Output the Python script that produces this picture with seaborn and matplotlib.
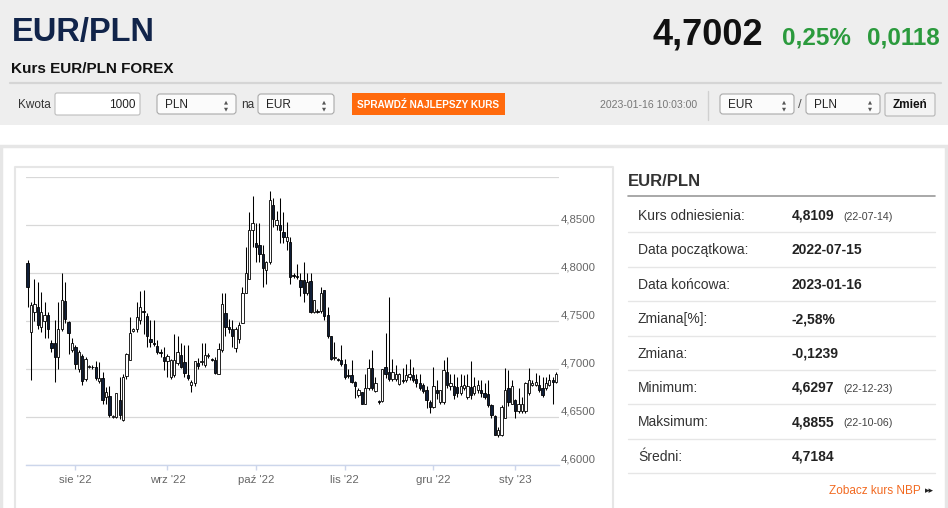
import numpy as np
import pandas as pd
import matplotlib
matplotlib.use("Agg")
import matplotlib.pyplot as plt
import seaborn as sns
from matplotlib.patches import Rectangle, FancyBboxPatch
from matplotlib.transforms import blended_transform_factory, offset_copy

# ---------------- data ----------------
opens = [4.811, 4.739, 4.760, 4.765, 4.744, 4.750, 4.756, 4.727, 4.727, 4.713,
         4.742, 4.771, 4.749, 4.720, 4.723, 4.700, 4.714, 4.690, 4.702, 4.702,
         4.702, 4.688, 4.691, 4.671, 4.672, 4.650, 4.650, 4.668, 4.647, 4.693,
         4.709, 4.740, 4.742, 4.751, 4.761, 4.755, 4.731, 4.727,
         4.724, 4.718, 4.713, 4.708, 4.692, 4.694, 4.706, 4.715, 4.707, 4.694,
         4.683, 4.685, 4.706, 4.707, 4.704, 4.714, 4.711, 4.710, 4.695, 4.720,
         4.758, 4.744, 4.742, 4.722, 4.731, 4.748, 4.779, 4.794, 4.845, 4.831,
         4.829, 4.820, 4.803, 4.812, 4.871, 4.850, 4.850, 4.843, 4.834, 4.833,
         4.798, 4.797, 4.793, 4.793, 4.779, 4.792, 4.760, 4.761, 4.761, 4.782,
         4.756, 4.734, 4.712, 4.711, 4.709, 4.705, 4.694, 4.694, 4.687, 4.673,
         4.676, 4.664, 4.680, 4.701, 4.677, 4.667, 4.667, 4.702, 4.697, 4.690,
         4.690, 4.684, 4.689, 4.689, 4.692, 4.694, 4.690, 4.685, 4.683,
         4.678, 4.666, 4.661, 4.678, 4.666, 4.666, 4.697, 4.682, 4.682, 4.681,
         4.675, 4.680, 4.671, 4.681, 4.675, 4.678, 4.678, 4.675, 4.674, 4.663,
         4.651, 4.631, 4.631, 4.649, 4.680, 4.664, 4.668, 4.656, 4.656, 4.656,
         4.675, 4.683, 4.683, 4.683, 4.680, 4.680, 4.683, 4.689, 4.687]
highs = [4.814, 4.770, 4.794, 4.791, 4.780, 4.770, 4.760, 4.730, 4.751, 4.770,
         4.800, 4.791, 4.750, 4.732, 4.725, 4.720, 4.716, 4.713, 4.704, 4.704,
         4.708, 4.707, 4.697, 4.681, 4.682, 4.652, 4.675, 4.692, 4.695, 4.717,
         4.754, 4.743, 4.770, 4.781, 4.782, 4.758, 4.751, 4.751,
         4.730, 4.721, 4.723, 4.716, 4.711, 4.737, 4.734, 4.727, 4.725, 4.725,
         4.689, 4.708, 4.712, 4.727, 4.727, 4.717, 4.712, 4.713, 4.727, 4.779,
         4.779, 4.752, 4.751, 4.744, 4.749, 4.786, 4.827, 4.864, 4.880, 4.852,
         4.852, 4.829, 4.813, 4.8855, 4.878, 4.865, 4.878, 4.864, 4.853, 4.838,
         4.800, 4.810, 4.800, 4.812, 4.800, 4.800, 4.772, 4.763, 4.786, 4.782,
         4.765, 4.735, 4.728, 4.712, 4.725, 4.711, 4.700, 4.709, 4.688, 4.680,
         4.676, 4.695, 4.711, 4.720, 4.692, 4.668, 4.700, 4.738, 4.775, 4.711,
         4.704, 4.696, 4.701, 4.705, 4.711, 4.702, 4.695, 4.695, 4.686,
         4.682, 4.668, 4.702, 4.689, 4.678, 4.709, 4.713, 4.695, 4.695, 4.692,
         4.695, 4.694, 4.695, 4.708, 4.692, 4.689, 4.689, 4.685, 4.689, 4.664,
         4.652, 4.640, 4.663, 4.701, 4.699, 4.689, 4.669, 4.680, 4.671, 4.687,
         4.701, 4.689, 4.696, 4.694, 4.692, 4.692, 4.695, 4.692, 4.697]
lows = [4.765, 4.689, 4.750, 4.742, 4.739, 4.732, 4.732, 4.718, 4.687, 4.700,
        4.740, 4.748, 4.716, 4.718, 4.700, 4.697, 4.683, 4.688, 4.701, 4.700,
        4.689, 4.686, 4.664, 4.664, 4.650, 4.649, 4.649, 4.648, 4.646, 4.690,
        4.709, 4.739, 4.739, 4.747, 4.737, 4.723, 4.723, 4.724,
        4.716, 4.713, 4.699, 4.692, 4.690, 4.692, 4.704, 4.701, 4.692, 4.689,
        4.676, 4.682, 4.700, 4.704, 4.702, 4.712, 4.708, 4.695, 4.695, 4.718,
        4.734, 4.738, 4.723, 4.718, 4.727, 4.748, 4.779, 4.794, 4.827, 4.812,
        4.812, 4.786, 4.789, 4.810, 4.848, 4.845, 4.831, 4.831, 4.824, 4.789,
        4.795, 4.794, 4.776, 4.770, 4.777, 4.758, 4.758, 4.759, 4.759, 4.751,
        4.732, 4.710, 4.709, 4.708, 4.703, 4.690, 4.691, 4.685, 4.670, 4.671,
        4.664, 4.664, 4.678, 4.678, 4.676, 4.664, 4.666, 4.691, 4.688, 4.688,
        4.688, 4.683, 4.686, 4.687, 4.689, 4.687, 4.681, 4.678, 4.675,
        4.659, 4.654, 4.659, 4.669, 4.664, 4.664, 4.680, 4.678, 4.669, 4.671,
        4.673, 4.678, 4.669, 4.669, 4.673, 4.675, 4.671, 4.669, 4.661, 4.649,
        4.631, 4.6297, 4.630, 4.649, 4.662, 4.664, 4.649, 4.654, 4.654, 4.654,
        4.673, 4.682, 4.682, 4.676, 4.671, 4.678, 4.682, 4.664, 4.685]
closes = [4.786, 4.767, 4.768, 4.746, 4.760, 4.756, 4.742, 4.722, 4.713, 4.742,
          4.772, 4.752, 4.738, 4.727, 4.705, 4.718, 4.688, 4.711, 4.703, 4.702,
          4.691, 4.691, 4.668, 4.676, 4.652, 4.651, 4.675, 4.652, 4.692, 4.716,
          4.738, 4.742, 4.754, 4.765, 4.760, 4.734, 4.728, 4.726,
          4.718, 4.717, 4.708, 4.714, 4.709, 4.709, 4.718, 4.702, 4.696, 4.691,
          4.687, 4.708, 4.703, 4.708, 4.715, 4.715, 4.710, 4.696, 4.721, 4.768,
          4.744, 4.742, 4.734, 4.742, 4.746, 4.779, 4.800, 4.845, 4.852, 4.827,
          4.820, 4.805, 4.812, 4.876, 4.857, 4.855, 4.845, 4.838, 4.838, 4.796,
          4.797, 4.796, 4.786, 4.779, 4.791, 4.760, 4.772, 4.760, 4.779, 4.755,
          4.734, 4.711, 4.713, 4.710, 4.705, 4.692, 4.693, 4.687, 4.682, 4.678,
          4.664, 4.680, 4.701, 4.680, 4.685, 4.666, 4.700, 4.695, 4.690, 4.697,
          4.695, 4.695, 4.688, 4.694, 4.695, 4.689, 4.685, 4.680, 4.677,
          4.668, 4.661, 4.682, 4.675, 4.678, 4.699, 4.683, 4.685, 4.673, 4.675,
          4.682, 4.683, 4.682, 4.673, 4.682, 4.683, 4.675, 4.671, 4.663, 4.652,
          4.631, 4.637, 4.661, 4.678, 4.666, 4.682, 4.656, 4.664, 4.664, 4.685,
          4.689, 4.685, 4.687, 4.678, 4.673, 4.685, 4.689, 4.687, 4.695]

first_day = "2022-07-15"
last_day = "2023-01-16"
missing_days = ["2022-12-25", "2022-12-26", "2023-01-01"]
month_abbr = {1: "sty", 8: "sie", 9: "wrz", 10: "paź", 11: "lis", 12: "gru"}
y_ticks = [4.60, 4.65, 4.70, 4.75, 4.80, 4.85, 4.90]

pair = "EUR/PLN"
header_sub = "Kurs EUR/PLN FOREX"
last_rate = "4,7002"
change_pct = "0,25%"
change_abs = "0,0118"
timestamp = "2023-01-16 10:03:00"
stat_labels = ["Kurs odniesienia:", "Data początkowa:", "Data końcowa:", "Zmiana[%]:",
               "Zmiana:", "Minimum:", "Maksimum:", "Średni:"]
stat_values = ["4,8109", "2022-07-15", "2023-01-16", "-2,58%", "-0,1239",
               "4,6297", "4,8855", "4,7184"]
stat_dates = ["(22-07-14)", "", "", "", "", "(22-12-23)", "(22-10-06)", ""]

# ---------------- frame ----------------
days = pd.date_range(first_day, last_day, freq="D")
days = days[(days.dayofweek != 5) & ~days.isin(pd.to_datetime(missing_days))]
df = pd.DataFrame({"date": days[:len(closes)], "open": opens, "high": highs,
                   "low": lows, "close": closes})
df["idx"] = np.arange(len(df))
df["up"] = df["close"] >= df["open"]

sns.set_theme(style="white")
plt.rcParams["font.family"] = ["Liberation Sans", "DejaVu Sans"]

W, H = 948, 508
fig = plt.figure(figsize=(W / 100, H / 100), dpi=100)
fig.patch.set_facecolor("white")

# background axes in pixel coordinates
bg = fig.add_axes([0, 0, 1, 1])
bg.set_xlim(0, W)
bg.set_ylim(H, 0)
bg.axis("off")


def T(x, y, s, size, color="#333333", weight="normal", ha="left", va="baseline", **kw):
    bg.text(x, y, s, fontsize=size, color=color, fontweight=weight, ha=ha, va=va, **kw)


def box(x0, y0, x1, y1, fc, ec, lw=0.8, r=2.5):
    bg.add_patch(FancyBboxPatch((x0, y0), x1 - x0, y1 - y0,
                                boxstyle=f"round,pad=0,rounding_size={r}",
                                fc=fc, ec=ec, lw=lw))


def select(x0, x1, label):
    box(x0, 94, x1, 114, "#fbfbfb", "#a9a9a9", 0.8, 3)
    T(x0 + 8, 108, label, 8.5, "#222222")
    T(x1 - 10, 103.5, "▲", 3.8, "#555555", ha="center", family=["DejaVu Sans"])
    T(x1 - 10, 110.5, "▼", 3.8, "#555555", ha="center", family=["DejaVu Sans"])


# header
bg.add_patch(Rectangle((0, 0), W, 125, fc="#eeeeee", ec="none"))
T(11.5, 41, pair, 23.5, "#11244a", "bold")
T(11.5, 72.7, header_sub, 11, "#111111", "bold")
T(763, 45, last_rate, 26, "#111111", "bold", ha="right")
T(782, 44, change_pct, 17.5, "#2b9a3d", "bold")
T(940, 44, change_abs, 17.5, "#2b9a3d", "bold", ha="right")
bg.plot([10, 941], [83, 83], color="#d5d5d5", lw=1.6)

# form row
T(18, 108, "Kwota", 8.5, "#333333")
box(55, 93, 140, 115, "white", "#bdbdbd", 0.8, 2)
T(136, 108, "1000", 8.5, "#222222", ha="right")
select(157, 236, "PLN")
T(241, 108, "na", 8.5, "#333333")
select(258, 334, "EUR")
bg.add_patch(Rectangle((352, 93), 153, 22, fc="#ff6a0d", ec="none"))
T(428.5, 107.5, "SPRAWDŹ NAJLEPSZY KURS", 7.2, "white", "bold", ha="center")
T(600, 108, timestamp, 7.6, "#777777")
bg.plot([708, 708], [91, 120], color="#d0d0d0", lw=1)
select(720, 794, "EUR")
T(800, 108.5, "/", 9.5, "#555555", ha="center")
select(806, 880, "PLN")
box(885, 93, 935, 116, "#f3f3f3", "#b5b5b5", 0.8, 2)
T(910, 108.5, "Zmień", 8.5, "#111111", "bold", ha="center")

# outer panel and chart frame
bg.add_patch(Rectangle((1.5, 145.5), 944.5, 370, fc="white", ec="#e6e6e6", lw=2.5))
bg.plot([15.5, 15.5, 613, 613], [515, 167, 167, 515], color="#e6e6e6", lw=1.5)

# stats panel
T(628, 186.5, pair, 12, "#333333", "bold")
bg.plot([628, 935], [196, 196], color="#9a9a9a", lw=1.2)
row_centres = 215 + 34.4 * np.arange(len(stat_labels))
for yc, lab, val, dt in zip(row_centres, stat_labels, stat_values, stat_dates):
    T(638, yc + 5, lab, 10, "#333333")
    T(792, yc + 5, val, 10, "#222222", "bold")
    if dt:
        T(843, yc + 4.5, dt, 7.7, "#444444")
    bg.plot([628, 935], [yc + 17.4, yc + 17.4], color="#e6e6e6", lw=1)
T(829, 494, "Zobacz kurs NBP", 8.5, "#f26a21")
T(925, 493, "▸▸", 6.5, "#222222", family=["DejaVu Sans"])

# ---------------- candlestick chart ----------------
ax = fig.add_axes([26 / W, 1 - 465 / H, (558.7 - 26) / W, (465 - 177.3) / H])
ax.set_facecolor("none")
ax.set_xlim(-0.47, 155.75)
ax.set_ylim(y_ticks[0], y_ticks[-1])

ax.vlines(df["idx"], df["low"], df["high"], color="black", lw=0.75, zorder=2)
body_low = np.minimum(df["open"], df["close"])
body_h = (df["close"] - df["open"]).abs()
ax.bar(df["idx"], body_h, bottom=body_low, width=0.68,
       color=np.where(df["up"], "white", "#0f1e38"),
       edgecolor="black", linewidth=0.6, zorder=3)

ax.set_yticks(y_ticks)
ax.grid(axis="y", color="#d8d8d8", lw=0.9)
ax.grid(axis="x", visible=False)
ax.set_axisbelow(True)
ax.tick_params(axis="y", length=0, labelleft=False, labelright=False)
for side in ["left", "right", "top"]:
    ax.spines[side].set_visible(False)
ax.spines["bottom"].set_color("#ccd6eb")
ax.spines["bottom"].set_linewidth(1)

# month ticks at the first candle of each month
firsts = df.groupby([df["date"].dt.year, df["date"].dt.month])["idx"].min().iloc[1:]
tick_pos = firsts.values
tick_lab = [f"{month_abbr[m]} '{str(y)[2:]}" for (y, m) in firsts.index]
ax.set_xticks(tick_pos)
ax.tick_params(axis="x", length=3.6, width=1, color="#ccd6eb", direction="out",
               labelbottom=False, bottom=True)
xtr = offset_copy(blended_transform_factory(ax.transData, ax.transAxes), fig=fig,
                  x=0, y=-18, units="dots")
for p, lab in zip(tick_pos, tick_lab):
    ax.text(p, 0, lab, transform=xtr, ha="center", va="baseline",
            fontsize=8.2, color="#666666", clip_on=False)

ytr = offset_copy(blended_transform_factory(ax.transAxes, ax.transData), fig=fig,
                  x=2, y=2.3, units="dots")
for v in y_ticks[:-1]:
    ax.text(1, v, f"{v:.4f}".replace(".", ","), transform=ytr, ha="left",
            va="baseline", fontsize=8.2, color="#666666", clip_on=False)

fig.savefig("out.png", dpi=100)
